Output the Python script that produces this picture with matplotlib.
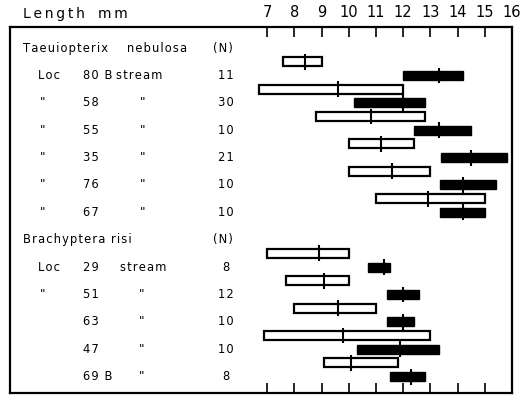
"""Body length ranges of stonefly larvae by locality (open = one sex, filled = the other)."""

import matplotlib.pyplot as plt
from matplotlib.transforms import blended_transform_factory

plt.rcParams.update({"font.family": "DejaVu Sans", "font.size": 8.3})

# Taeniopterix nebulosa, localities (rows 1-6)
taen_loc = ["80 B", "58", "55", "35", "76", "67"]
taen_n = ["11", "30", "10", "21", "10", "10"]
taen_open_min = [7.6, 6.7, 8.8, 10.0, 10.0, 11.0]
taen_open_max = [9.0, 12.0, 12.8, 12.4, 13.0, 15.0]
taen_open_med = [8.4, 9.6, 10.8, 11.2, 11.6, 12.9]
taen_fill_min = [12.0, 10.2, 12.4, 13.4, 13.35, 13.35]
taen_fill_max = [14.2, 12.8, 14.5, 15.8, 15.4, 15.0]
taen_fill_med = [13.3, 12.0, 13.3, 14.5, 14.2, 14.2]

# Brachyptera risi, localities (rows 8-12)
brach_loc = ["29", "51", "63", "47", "69 B"]
brach_n = ["8", "12", "10", "10", "8"]
brach_open_min = [7.0, 7.7, 8.0, 6.9, 9.1]
brach_open_max = [10.0, 10.0, 11.0, 13.0, 11.8]
brach_open_med = [8.9, 9.1, 9.6, 9.8, 10.1]
brach_fill_min = [10.7, 11.4, 11.4, 10.3, 11.5]
brach_fill_max = [11.5, 12.6, 12.4, 13.3, 12.8]
brach_fill_med = [11.3, 12.0, 12.0, 11.9, 12.3]

length_ticks = list(range(7, 17))

X_LEFT, X_RIGHT = -2.45, 16.0
BAR_H = 0.33
MED_H = 0.29


def px(x):
    # horizontal pixel position -> axes fraction
    return (x - 10) / 502


def sp(s, gap="\u200a"):
    # the original lettering is widely tracked
    return gap.join(s)


def draw_group(ax, rows, omin, omax, omed, fmin, fmax, fmed):
    open_rows = [r - 0.5 for r in rows]
    ax.barh(open_rows, [b - a for a, b in zip(omin, omax)], left=omin, height=BAR_H,
            facecolor="white", edgecolor="black", linewidth=1.6, zorder=2)
    ax.barh(rows, [b - a for a, b in zip(fmin, fmax)], left=fmin, height=BAR_H,
            facecolor="black", edgecolor="black", linewidth=1.0, zorder=2)
    ax.vlines(omed, [r - MED_H for r in open_rows], [r + MED_H for r in open_rows],
              color="black", linewidth=1.5, zorder=3)
    ax.vlines(fmed, [r - MED_H for r in rows], [r + MED_H for r in rows],
              color="black", linewidth=1.5, zorder=3)


fig = plt.figure(figsize=(5.3, 3.96), dpi=100)
ax = fig.add_axes([10 / 530, 1 - 393 / 396, 502 / 530, 366 / 396])
ax.set_xlim(X_LEFT, X_RIGHT)
ax.set_ylim(12.6, -0.77)

taen_rows = list(range(1, 7))
brach_rows = list(range(8, 13))
draw_group(ax, taen_rows, taen_open_min, taen_open_max, taen_open_med,
           taen_fill_min, taen_fill_max, taen_fill_med)
draw_group(ax, brach_rows, brach_open_min, brach_open_max, brach_open_med,
           brach_fill_min, brach_fill_max, brach_fill_med)

for side in ax.spines.values():
    side.set_linewidth(1.6)
ax.set_yticks([])
ax.set_xticks(length_ticks)
ax.tick_params(axis="x", which="both", direction="in", length=7, width=1.2,
               top=True, bottom=True, labeltop=True, labelbottom=False,
               labelsize=10.5, pad=5)

tr = blended_transform_factory(ax.transAxes, ax.transData)
fig.text(23 / 530, 1 - 14 / 396, sp("Length", "\u2009"), fontsize=10, va="center")
fig.text(98 / 530, 1 - 14 / 396, sp("mm", "\u2009"), fontsize=10, va="center")

# table text
ax.text(px(23), 0, sp("Taeuiopterix"), transform=tr, va="center")
ax.text(px(127), 0, sp("nebulosa"), transform=tr, va="center")
ax.text(px(213), 0, sp("(N)"), transform=tr, va="center")
for i, (r, loc, n) in enumerate(zip(taen_rows, taen_loc, taen_n)):
    ax.text(px(38) if i == 0 else px(43), r, sp("Loc") if i == 0 else "''", transform=tr,
            va="center", ha="left" if i == 0 else "center")
    ax.text(px(83), r, sp(loc), transform=tr, va="center")
    if i == 0:
        ax.text(px(116), r, sp("stream"), transform=tr, va="center")
    else:
        ax.text(px(143), r, "''", transform=tr, va="center", ha="center")
    ax.text(px(226), r, sp(n), transform=tr, va="center", ha="center")

ax.text(px(23), 7, sp("Brachyptera"), transform=tr, va="center")
ax.text(px(111), 7, sp("risi"), transform=tr, va="center")
ax.text(px(213), 7, sp("(N)"), transform=tr, va="center")
for i, (r, loc, n) in enumerate(zip(brach_rows, brach_loc, brach_n)):
    if i == 0:
        ax.text(px(38), r, sp("Loc"), transform=tr, va="center")
    elif i == 1:
        ax.text(px(43), r, "''", transform=tr, va="center", ha="center")
    ax.text(px(83), r, sp(loc), transform=tr, va="center")
    if i == 0:
        ax.text(px(120), r, sp("stream"), transform=tr, va="center")
    else:
        ax.text(px(142), r, "''", transform=tr, va="center", ha="center")
    ax.text(px(226), r, sp(n), transform=tr, va="center", ha="center")

fig.savefig("out.png", dpi=100)
